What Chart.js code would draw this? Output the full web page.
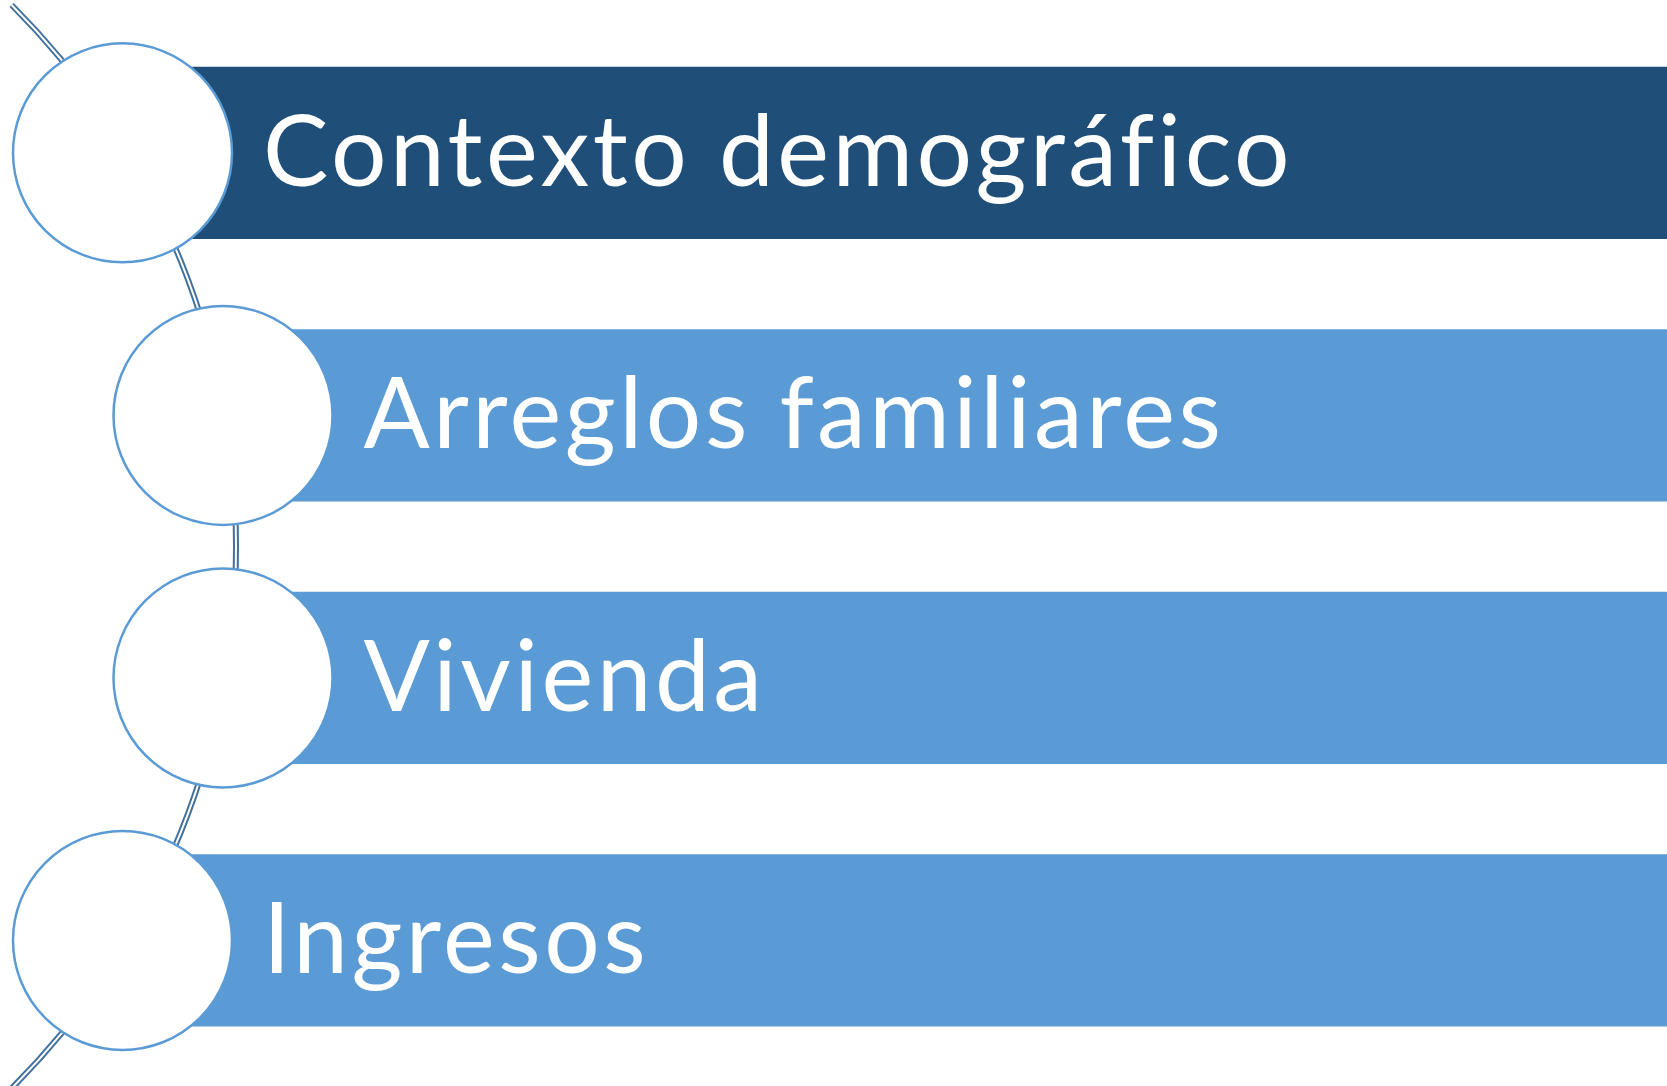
<!DOCTYPE html>
<html>
<head>
<meta charset="utf-8">
<script src="https://cdn.jsdelivr.net/npm/chart.js@4/dist/chart.umd.min.js"></script>
<style>
  html, body { margin: 0; padding: 0; background: #ffffff; }
  #wrap { width: 1667px; height: 1086px; }
</style>
</head>
<body>
<div id="wrap"><canvas id="diagram"></canvas></div>
<script>
// steps of the diagram, top to bottom
const steps = ['Contexto demográfico', 'Arreglos familiares', 'Vivienda', 'Ingresos'];
// where each band starts and ends on the x axis
const bandStart = [122.5, 223, 223, 122.5];
const bandEnd = [1667, 1667, 1667, 1667];
// circle centres (x) and radius, sitting on the arc
const circleX = [122.5, 223, 223, 122.5];
const circleR = 109.5;
// the connecting arc: centre x, centre between step 2 and 3, radius in x units
const arcCenterX = -530;
const arcCenterIndex = 1.5;
const arcRadius = 766;

const bandColors = ['#1F4E79', '#5B9BD5', '#5B9BD5', '#5B9BD5'];

// draws the double line that strings the circles together
const arcPlugin = {
  id: 'arcPlugin',
  beforeDatasetsDraw(chart) {
    const { ctx, scales } = chart;
    const cx = scales.x.getPixelForValue(arcCenterX);
    const cy = scales.y.getPixelForValue(arcCenterIndex);
    const r = scales.x.getPixelForValue(arcCenterX + arcRadius) - cx;
    // the line stops a few pixels short of the top edge
    const a0 = Math.asin((5 - cy) / r);
    ctx.save();
    ctx.beginPath();
    ctx.arc(cx, cy, r, a0, Math.PI / 2);
    ctx.lineWidth = 6;
    ctx.strokeStyle = '#41719C';
    ctx.stroke();
    ctx.lineWidth = 2;
    ctx.strokeStyle = '#ffffff';
    ctx.stroke();
    ctx.restore();
  }
};

// white labels inside the bands
const labelPlugin = {
  id: 'labelPlugin',
  afterDatasetsDraw(chart) {
    const { ctx, scales } = chart;
    const bars = chart.getDatasetMeta(0).data;
    ctx.save();
    ctx.fillStyle = '#ffffff';
    ctx.font = '98px Lato';
    ctx.letterSpacing = '3.5px';
    ctx.textBaseline = 'alphabetic';
    ctx.textAlign = 'left';
    bars.forEach((bar, i) => {
      const x = scales.x.getPixelForValue(circleX[i]) + circleR + 31;
      // keep f and i apart, as in the original
      const txt = steps[i].replace(/fi/g, 'f\u200Ci');
      ctx.fillText(txt, x, bar.y + 33);
    });
    ctx.restore();
  }
};

new Chart(document.getElementById('diagram'), {
  type: 'bar',
  data: {
    labels: steps,
    datasets: [
      {
        type: 'bubble',
        data: steps.map((s, i) => ({ x: circleX[i], y: s, r: circleR })),
        backgroundColor: '#ffffff',
        borderColor: '#5B9BD5',
        borderWidth: 2.5,
        hoverRadius: 0,
        clip: false,
        order: 0
      },
      {
        data: steps.map((s, i) => [bandStart[i], bandEnd[i]]),
        backgroundColor: bandColors,
        borderWidth: 0,
        barPercentage: 0.656,
        categoryPercentage: 1,
        clip: false,
        order: 1
      }
    ]
  },
  options: {
    indexAxis: 'y',
    responsive: true,
    maintainAspectRatio: false,
    animation: false,
    layout: { autoPadding: false, padding: { left: 0, right: 0, top: 21.6, bottom: 14.3 } },
    plugins: {
      legend: { display: false },
      tooltip: { enabled: false }
    },
    scales: {
      x: { type: 'linear', min: 0, max: 1667, display: false },
      y: { type: 'category', display: false, offset: true }
    }
  },
  plugins: [arcPlugin, labelPlugin]
});
</script>
</body>
</html>
